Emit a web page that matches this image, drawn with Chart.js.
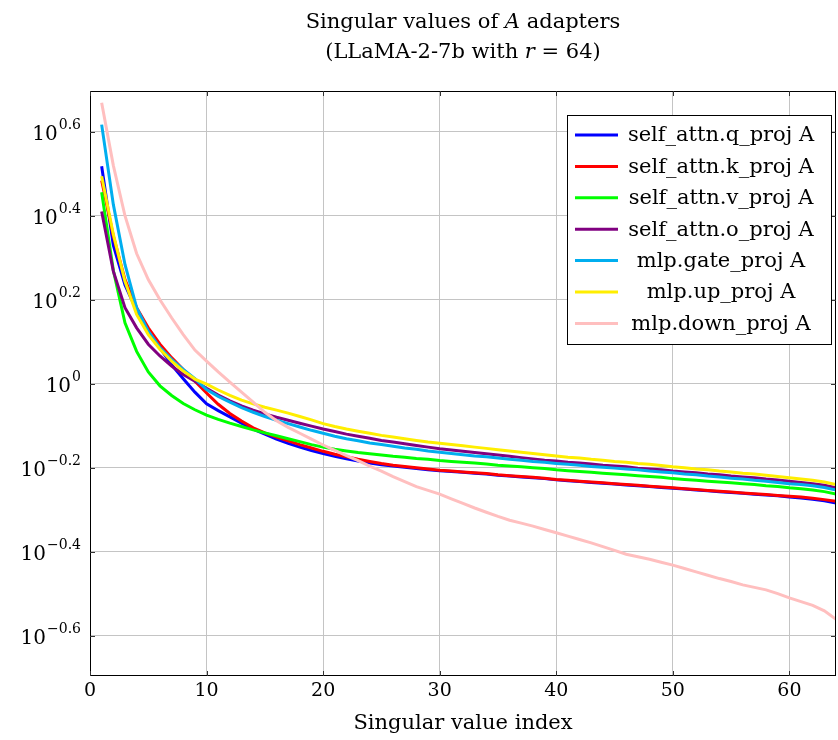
<!DOCTYPE html>
<html><head><meta charset="utf-8">
<script src="https://cdn.jsdelivr.net/npm/chart.js@4/dist/chart.umd.min.js"></script>
<style>html,body{margin:0;padding:0;background:#fff;}</style>
</head><body>
<canvas id="c" width="838" height="740"></canvas>
<script>
// Singular value index (x) for every series
const indices = [1,2,3,4,5,6,7,8,9,10,11,12,13,14,15,16,17,18,19,20,21,22,23,24,25,26,27,28,29,30,31,32,33,34,35,36,37,38,39,40,41,42,43,44,45,46,47,48,49,50,51,52,53,54,55,56,57,58,59,60,61,62,63,64];

// Values are log10(singular value), i.e. the exponent read on the 10^k axis
const qProjLog10 = [0.518,0.330,0.235,0.175,0.128,0.085,0.045,0.012,-0.020,-0.048,-0.064,-0.079,-0.094,-0.108,-0.120,-0.132,-0.142,-0.151,-0.159,-0.166,-0.173,-0.179,-0.184,-0.189,-0.193,-0.196,-0.199,-0.202,-0.205,-0.207,-0.209,-0.211,-0.213,-0.215,-0.218,-0.220,-0.222,-0.224,-0.226,-0.229,-0.231,-0.233,-0.235,-0.237,-0.239,-0.241,-0.243,-0.245,-0.247,-0.249,-0.251,-0.253,-0.255,-0.257,-0.259,-0.261,-0.263,-0.265,-0.267,-0.270,-0.272,-0.275,-0.279,-0.284];
const kProjLog10 = [0.484,0.352,0.248,0.181,0.133,0.094,0.062,0.034,0.006,-0.022,-0.049,-0.071,-0.089,-0.105,-0.117,-0.127,-0.136,-0.145,-0.153,-0.161,-0.168,-0.174,-0.180,-0.185,-0.190,-0.194,-0.197,-0.200,-0.203,-0.206,-0.208,-0.210,-0.212,-0.214,-0.217,-0.219,-0.221,-0.223,-0.225,-0.228,-0.230,-0.232,-0.234,-0.236,-0.238,-0.240,-0.242,-0.244,-0.246,-0.248,-0.250,-0.252,-0.254,-0.256,-0.258,-0.260,-0.262,-0.264,-0.266,-0.268,-0.270,-0.273,-0.276,-0.280];
const vProjLog10 = [0.456,0.270,0.145,0.077,0.028,-0.005,-0.028,-0.047,-0.062,-0.075,-0.085,-0.094,-0.102,-0.110,-0.117,-0.124,-0.131,-0.138,-0.145,-0.151,-0.156,-0.160,-0.164,-0.167,-0.170,-0.173,-0.175,-0.178,-0.180,-0.183,-0.185,-0.187,-0.189,-0.191,-0.194,-0.196,-0.198,-0.200,-0.202,-0.205,-0.207,-0.209,-0.211,-0.213,-0.215,-0.217,-0.219,-0.221,-0.223,-0.226,-0.228,-0.230,-0.232,-0.234,-0.236,-0.238,-0.240,-0.243,-0.245,-0.248,-0.250,-0.253,-0.257,-0.263];
const oProjLog10 = [0.410,0.268,0.181,0.133,0.094,0.066,0.042,0.022,0.006,-0.011,-0.027,-0.041,-0.053,-0.063,-0.072,-0.080,-0.087,-0.094,-0.101,-0.108,-0.114,-0.120,-0.125,-0.130,-0.135,-0.139,-0.143,-0.147,-0.151,-0.155,-0.158,-0.161,-0.164,-0.167,-0.170,-0.173,-0.176,-0.179,-0.182,-0.184,-0.187,-0.189,-0.191,-0.194,-0.196,-0.198,-0.201,-0.203,-0.205,-0.208,-0.210,-0.212,-0.215,-0.217,-0.220,-0.222,-0.224,-0.227,-0.229,-0.232,-0.235,-0.238,-0.242,-0.248];
const gateProjLog10 = [0.617,0.427,0.284,0.181,0.125,0.086,0.058,0.034,0.012,-0.014,-0.030,-0.044,-0.057,-0.068,-0.078,-0.087,-0.095,-0.103,-0.111,-0.118,-0.125,-0.131,-0.136,-0.141,-0.145,-0.149,-0.153,-0.156,-0.160,-0.163,-0.166,-0.169,-0.172,-0.174,-0.177,-0.180,-0.182,-0.185,-0.187,-0.190,-0.192,-0.194,-0.197,-0.199,-0.201,-0.203,-0.205,-0.208,-0.210,-0.212,-0.215,-0.217,-0.220,-0.222,-0.225,-0.227,-0.230,-0.232,-0.235,-0.238,-0.240,-0.243,-0.247,-0.253];
const upProjLog10 = [0.494,0.356,0.244,0.165,0.117,0.082,0.054,0.030,0.011,-0.001,-0.015,-0.028,-0.039,-0.048,-0.056,-0.063,-0.070,-0.078,-0.086,-0.095,-0.102,-0.108,-0.113,-0.118,-0.123,-0.127,-0.131,-0.135,-0.139,-0.142,-0.145,-0.148,-0.151,-0.154,-0.157,-0.160,-0.163,-0.166,-0.169,-0.172,-0.175,-0.177,-0.180,-0.182,-0.185,-0.187,-0.190,-0.192,-0.195,-0.198,-0.200,-0.203,-0.205,-0.208,-0.210,-0.213,-0.215,-0.218,-0.221,-0.224,-0.227,-0.230,-0.234,-0.240];
const downProjLog10 = [0.669,0.520,0.400,0.310,0.248,0.200,0.157,0.117,0.080,0.054,0.028,0.004,-0.020,-0.044,-0.068,-0.088,-0.104,-0.118,-0.132,-0.146,-0.159,-0.171,-0.183,-0.196,-0.208,-0.221,-0.233,-0.245,-0.254,-0.263,-0.274,-0.285,-0.296,-0.306,-0.316,-0.325,-0.332,-0.339,-0.347,-0.355,-0.363,-0.371,-0.379,-0.388,-0.397,-0.406,-0.412,-0.418,-0.425,-0.432,-0.440,-0.448,-0.456,-0.464,-0.471,-0.479,-0.485,-0.491,-0.500,-0.510,-0.519,-0.528,-0.541,-0.561];

const seriesNames = ['self_attn.q_proj A','self_attn.k_proj A','self_attn.v_proj A','self_attn.o_proj A','mlp.gate_proj A','mlp.up_proj A','mlp.down_proj A'];
const seriesValues = [qProjLog10,kProjLog10,vProjLog10,oProjLog10,gateProjLog10,upProjLog10,downProjLog10];
const seriesColors = ['#0000ff','#ff0000','#00ff00','#800080','#00aeef','#ffee00','#ffbfbf'];

const xTickValues = [0,10,20,30,40,50,60];
const yTickExponents = [0.6,0.4,0.2,0,-0.2,-0.4,-0.6];
const yTickLabels = ['0.6','0.4','0.2','0','\u22120.2','\u22120.4','\u22120.6'];

const titleLine1 = ['Singular values of ', 'A', ' adapters'];
const titleLine2 = ['(LLaMA-2-7b with ', 'r', ' = 64)'];
const xAxisTitle = 'Singular value index';

const FONT = "'DejaVu Serif', serif";

const datasets = seriesValues.map((vals, i) => ({
  label: seriesNames[i],
  data: indices.map((x, j) => ({x: x, y: vals[j]})),
  borderColor: seriesColors[i],
  backgroundColor: seriesColors[i],
  borderWidth: 3,
  pointRadius: 0,
  tension: 0,
  fill: false,
  order: seriesValues.length - i
}));

const decor = {
  id: 'decor',
  afterDraw(chart) {
    const ctx = chart.ctx, ca = chart.chartArea;
    const xs = chart.scales.x, ys = chart.scales.y;
    ctx.save();
    // frame
    ctx.strokeStyle = '#000'; ctx.lineWidth = 1;
    ctx.strokeRect(Math.round(ca.left)+0.5, Math.round(ca.top)+0.5, Math.round(ca.right-ca.left)-1, Math.round(ca.bottom-ca.top)-1);
    // inward ticks
    ctx.strokeStyle = '#333';
    ctx.beginPath();
    xTickValues.forEach(v => {
      const px = Math.round(xs.getPixelForValue(v)) + 0.5;
      ctx.moveTo(px, ca.bottom); ctx.lineTo(px, ca.bottom - 5);
      ctx.moveTo(px, ca.top); ctx.lineTo(px, ca.top + 5);
    });
    yTickExponents.forEach(v => {
      const py = Math.round(ys.getPixelForValue(v)) + 0.5;
      ctx.moveTo(ca.left, py); ctx.lineTo(ca.left + 5, py);
      ctx.moveTo(ca.right, py); ctx.lineTo(ca.right - 5, py);
    });
    ctx.stroke();
    // x tick labels
    ctx.fillStyle = '#000';
    ctx.font = '19px ' + FONT;
    ctx.textAlign = 'center'; ctx.textBaseline = 'middle';
    xTickValues.forEach(v => ctx.fillText(String(v), xs.getPixelForValue(v), ca.bottom + 15));
    // y tick labels 10^k
    yTickExponents.forEach((v, i) => {
      const py = ys.getPixelForValue(v);
      ctx.textAlign = 'right'; ctx.textBaseline = 'middle';
      ctx.font = '14px ' + FONT;
      const sup = yTickLabels[i];
      const supW = ctx.measureText(sup).width;
      const right = ca.left - 9;
      ctx.fillText(sup, right, py - 6);
      ctx.font = '20px ' + FONT;
      ctx.fillText('10', right - supW - 1, py + 3);
    });
    // x axis title
    ctx.font = '21px ' + FONT;
    ctx.textAlign = 'center'; ctx.textBaseline = 'middle';
    ctx.fillText(xAxisTitle, (ca.left + ca.right) / 2, ca.bottom + 48);
    // title (mixed upright / italic)
    const drawMixed = (parts, y) => {
      const fonts = ['21px ' + FONT, 'italic 21px ' + FONT, '21px ' + FONT];
      let w = 0;
      parts.forEach((p, k) => { ctx.font = fonts[k]; w += ctx.measureText(p).width; });
      let x = (ca.left + ca.right) / 2 - w / 2;
      ctx.textAlign = 'left'; ctx.textBaseline = 'alphabetic';
      parts.forEach((p, k) => { ctx.font = fonts[k]; ctx.fillText(p, x, y); x += ctx.measureText(p).width; });
    };
    drawMixed(titleLine1, 28);
    drawMixed(titleLine2, 58);
    // legend
    const lx = 567, ly = 115, lw = 264, lh = 229;
    ctx.fillStyle = '#fff';
    ctx.fillRect(lx, ly, lw, lh);
    ctx.strokeStyle = '#000'; ctx.lineWidth = 1;
    ctx.strokeRect(lx + 0.5, ly + 0.5, lw, lh);
    const rowH = 31.4;
    seriesNames.forEach((name, i) => {
      const cy = ly + 20 + i * rowH;
      ctx.strokeStyle = seriesColors[i]; ctx.lineWidth = 3;
      ctx.beginPath(); ctx.moveTo(575, cy); ctx.lineTo(618, cy); ctx.stroke();
      ctx.fillStyle = '#000';
      ctx.font = '21px ' + FONT;
      ctx.textAlign = 'center'; ctx.textBaseline = 'middle';
      ctx.fillText(name, 721, cy + 1);
    });
    ctx.restore();
  }
};

new Chart(document.getElementById('c'), {
  type: 'line',
  data: { datasets: datasets },
  options: {
    responsive: false,
    animation: false,
    devicePixelRatio: 1,
    layout: { padding: { top: 91, right: 2, left: 0, bottom: 0 } },
    plugins: { legend: { display: false }, title: { display: false }, tooltip: { enabled: false } },
    scales: {
      x: {
        type: 'linear', min: 0, max: 64,
        grid: { color: '#c4c4c4', lineWidth: 1, drawTicks: false },
        border: { display: false },
        ticks: { display: false },
        afterBuildTicks: s => { s.ticks = xTickValues.map(v => ({ value: v })); },
        afterFit: s => { s.height = 64; }
      },
      y: {
        type: 'linear', min: -0.696, max: 0.697,
        grid: { color: '#c4c4c4', lineWidth: 1, drawTicks: false },
        border: { display: false },
        ticks: { display: false },
        afterBuildTicks: s => { s.ticks = yTickExponents.map(v => ({ value: v })); },
        afterFit: s => { s.width = 90; }
      }
    }
  },
  plugins: [decor]
});
</script>
</body></html>
